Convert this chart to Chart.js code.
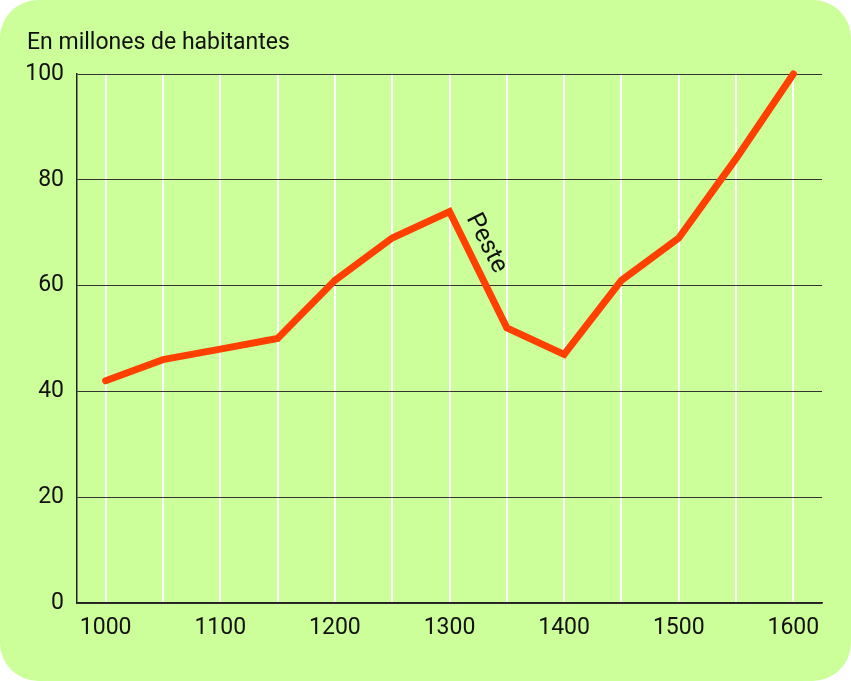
<!DOCTYPE html>
<html>
<head>
<meta charset="utf-8">
<script src="https://cdn.jsdelivr.net/npm/chart.js@4.4.1/dist/chart.umd.min.js"></script>
<style>
  html, body { margin: 0; padding: 0; background: #ffffff; }
  #wrap {
    width: 851px; height: 681px;
    background: #ccff99;
    border-radius: 38px;
    overflow: hidden;
    position: relative;
  }
</style>
</head>
<body>
<div id="wrap"><canvas id="chart" width="851" height="681"></canvas></div>
<script>
const years = [1000, 1050, 1100, 1150, 1200, 1250, 1300, 1350, 1400, 1450, 1500, 1550, 1600];
const population = [42, 46, 48, 50, 61, 69, 74, 52, 47, 61, 69, 84, 100];
const yTicks = [0, 20, 40, 60, 80, 100];
const title = "En millones de habitantes";
const note = { text: "Peste", x: 1332, y: 68 };

const FONT = "Roboto, 'Liberation Sans', sans-serif";

// Titel und Anmerkung zeichnen
const extras = {
  id: "extras",
  afterDraw(chart) {
    const c = chart.ctx;
    c.save();
    c.fillStyle = "#111";
    c.font = "23px " + FONT;
    c.textAlign = "left";
    c.textBaseline = "alphabetic";
    c.fillText(title, 27, 49);

    const px = chart.scales.x.getPixelForValue(note.x);
    const py = chart.scales.y.getPixelForValue(note.y);
    c.translate(px, py);
    c.rotate(63 * Math.PI / 180);
    c.textAlign = "center";
    c.textBaseline = "middle";
    c.font = "25px " + FONT;
    c.fillText(note.text, 0, 0);
    c.restore();
  }
};

new Chart(document.getElementById("chart"), {
  type: "line",
  data: {
    datasets: [{
      data: years.map((y, i) => ({ x: y, y: population[i] })),
      borderColor: "#ff4000",
      borderWidth: 7,
      pointRadius: 0,
      tension: 0,
      borderCapStyle: "round",
      borderJoinStyle: "miter",
      clip: false
    }]
  },
  options: {
    responsive: false,
    animation: false,
    layout: { padding: { top: 74, right: 29, left: 0, bottom: 0 } },
    plugins: { legend: { display: false }, tooltip: { enabled: false } },
    scales: {
      x: {
        type: "linear",
        min: 975,
        max: 1625,
        afterBuildTicks(axis) {
          axis.ticks = years.map(v => ({ value: v }));
        },
        afterFit(axis) { axis.height = 78; },
        grid: { color: "#ffffff", lineWidth: 2, drawTicks: false },
        border: { color: "#222", width: 1.5 },
        ticks: {
          padding: 11,
          color: "#111",
          font: { size: 23, family: FONT },
          maxRotation: 0,
          autoSkip: false,
          callback: v => (v % 100 === 0 ? String(v) : "")
        }
      },
      y: {
        min: 0,
        max: 100,
        afterBuildTicks(axis) {
          axis.ticks = yTicks.map(v => ({ value: v }));
        },
        afterFit(axis) { axis.width = 77; },
        grid: { color: "#333", lineWidth: 1, drawTicks: false },
        border: { color: "#222", width: 1.5 },
        ticks: {
          padding: 13,
          color: "#111",
          font: { size: 23, family: FONT }
        }
      }
    }
  },
  plugins: [extras]
});
</script>
</body>
</html>
